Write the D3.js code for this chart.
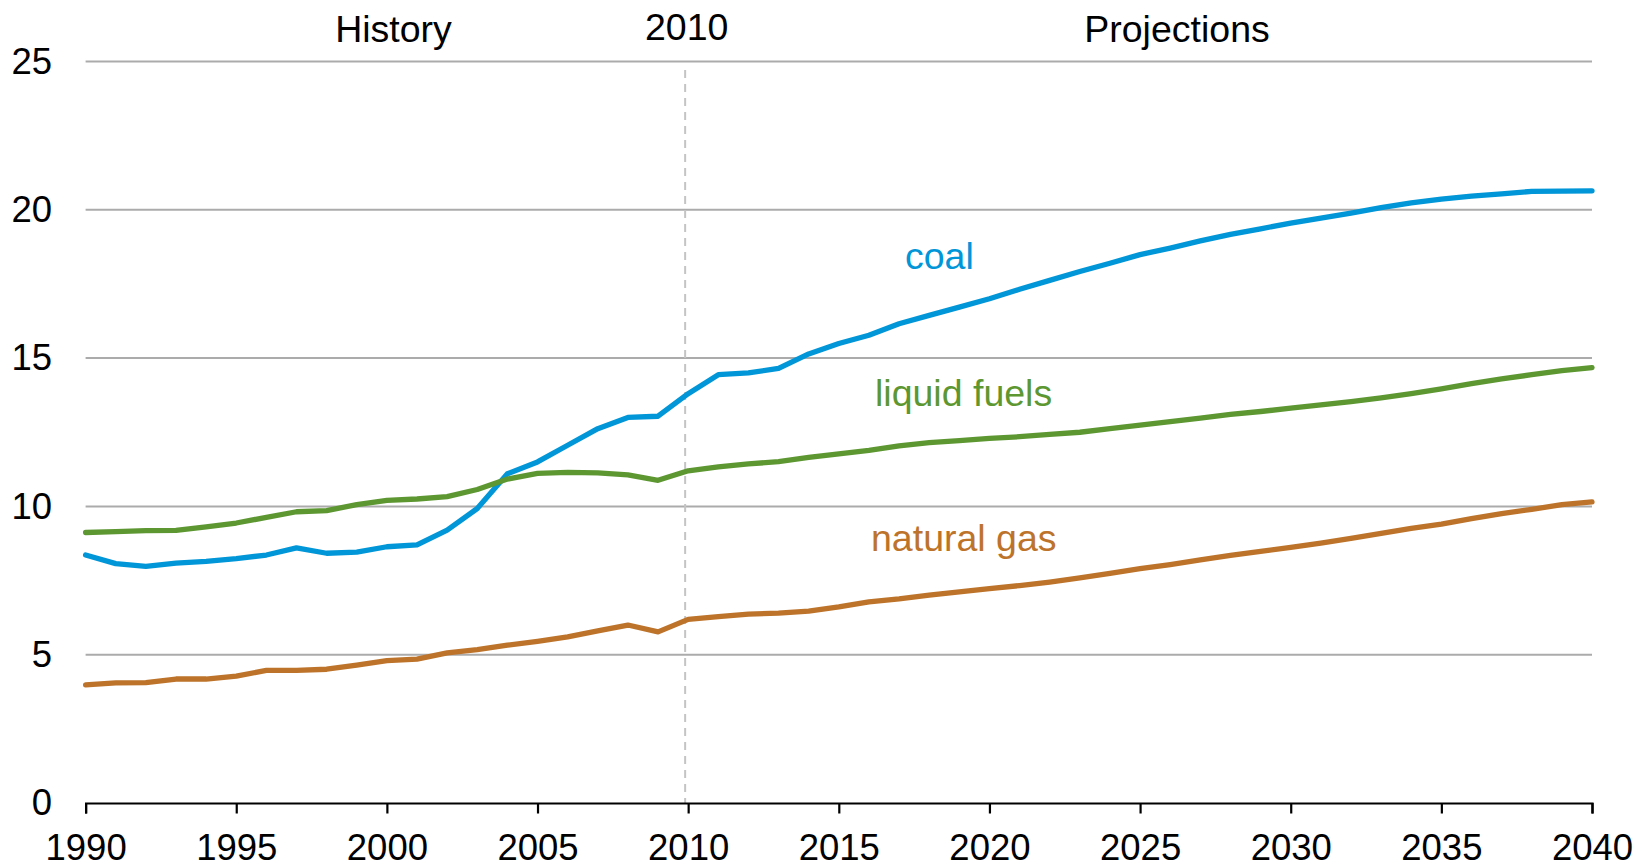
<!DOCTYPE html>
<html>
<head>
<meta charset="utf-8">
<script src="https://cdn.jsdelivr.net/npm/d3@7"></script>
<style>
  body { margin: 0; background: #ffffff; }
  text { font-family: "Liberation Sans", Arial, sans-serif; }
</style>
</head>
<body>
<div id="chart"></div>
<script>

// Years on the x axis
var years = d3.range(1990, 2041);

// Series values, one per year 1990-2040
var coal = [8.36, 8.07, 7.98, 8.09, 8.15, 8.24, 8.36, 8.60, 8.42, 8.46,
  8.64, 8.70, 9.20, 9.93, 11.10, 11.50, 12.06, 12.62, 13.00, 13.04,
  13.80, 14.44, 14.50, 14.65, 15.14, 15.49, 15.77, 16.16, 16.44, 16.72,
  17.00, 17.32, 17.62, 17.92, 18.20, 18.49, 18.71, 18.95, 19.17, 19.36,
  19.55, 19.72, 19.89, 20.07, 20.23, 20.36, 20.46, 20.54, 20.62, 20.63,
  20.64];

var liquidFuels = [9.12, 9.15, 9.18, 9.19, 9.31, 9.44, 9.63, 9.82, 9.86, 10.06,
  10.20, 10.25, 10.33, 10.57, 10.92, 11.11, 11.15, 11.13, 11.06, 10.88,
  11.20, 11.33, 11.43, 11.51, 11.65, 11.77, 11.89, 12.04, 12.15, 12.22,
  12.29, 12.35, 12.43, 12.50, 12.62, 12.74, 12.86, 12.98, 13.10, 13.20,
  13.31, 13.42, 13.53, 13.66, 13.80, 13.96, 14.14, 14.30, 14.44, 14.58,
  14.68];

var naturalGas = [3.98, 4.05, 4.06, 4.18, 4.18, 4.28, 4.47, 4.47, 4.51, 4.65,
  4.80, 4.85, 5.06, 5.17, 5.32, 5.45, 5.60, 5.80, 6.00, 5.77,
  6.19, 6.28, 6.37, 6.40, 6.47, 6.61, 6.78, 6.88, 7.01, 7.12,
  7.23, 7.33, 7.45, 7.59, 7.74, 7.90, 8.04, 8.20, 8.35, 8.48,
  8.62, 8.76, 8.92, 9.09, 9.26, 9.40, 9.59, 9.76, 9.90, 10.06,
  10.15];

// Tick values
var xTicks = [1990, 1995, 2000, 2005, 2010, 2015, 2020, 2025, 2030, 2035, 2040];
var yTicks = [0, 5, 10, 15, 20, 25];

// Series names and colours
var seriesNames = ["coal", "liquid fuels", "natural gas"];
var seriesColors = ["#0096d7", "#5d9732", "#bd732a"];

// Set dimensions for the SVG container
var width = 1636;
var height = 867;
var margin = { top: 61.5, right: 44, bottom: 64, left: 85.6 };
var innerW = width - margin.left - margin.right;
var innerH = height - margin.top - margin.bottom;

var svg = d3.select("#chart")
  .append("svg")
  .attr("width", width)
  .attr("height", height);

var g = svg.append("g")
  .attr("transform", "translate(" + margin.left + "," + margin.top + ")");

// Scales
var x = d3.scaleLinear().domain([1990, 2040]).range([0, innerW]);
var y = d3.scaleLinear().domain([0, 25]).range([innerH, 0]);

// Horizontal gridlines
g.selectAll(".grid")
  .data(yTicks.filter(function (d) { return d > 0; }))
  .enter()
  .append("line")
  .attr("x1", 0)
  .attr("x2", innerW)
  .attr("y1", function (d) { return y(d); })
  .attr("y2", function (d) { return y(d); })
  .attr("stroke", "#ababab")
  .attr("stroke-width", 2);

// Dashed line marking 2010
g.append("line")
  .attr("x1", x(2009.9))
  .attr("x2", x(2009.9))
  .attr("y1", 8.5)
  .attr("y2", innerH)
  .attr("stroke", "#c4c4c4")
  .attr("stroke-width", 2)
  .attr("stroke-dasharray", "8,6");

// Y axis (labels only)
var yAxis = g.append("g")
  .call(d3.axisLeft(y).tickValues(yTicks).tickSize(0).tickPadding(33.6));
yAxis.select(".domain").remove();
yAxis.selectAll("text")
  .style("font-size", "36.5px")
  .style("fill", "#000");

// X axis
var xAxis = g.append("g")
  .attr("transform", "translate(0," + innerH + ")")
  .call(d3.axisBottom(x).tickValues(xTicks).tickFormat(d3.format("d")).tickSize(10.5).tickPadding(21));
xAxis.select(".domain")
  .attr("stroke", "#000")
  .attr("stroke-width", 2.2);
xAxis.selectAll(".tick line")
  .attr("stroke", "#000")
  .attr("stroke-width", 2.2);
xAxis.selectAll("text")
  .style("font-size", "36.5px")
  .style("fill", "#000");

// Lines
var line = d3.line()
  .x(function (d, i) { return x(years[i]); })
  .y(function (d) { return y(d); });

var seriesValues = [coal, liquidFuels, naturalGas];

g.selectAll(".series")
  .data(seriesValues)
  .enter()
  .append("path")
  .attr("d", line)
  .attr("fill", "none")
  .attr("stroke", function (d, i) { return seriesColors[i]; })
  .attr("stroke-width", 5.3)
  .attr("stroke-linejoin", "round")
  .attr("stroke-linecap", "round");

// Series labels
var labelPos = [[905, 269], [875, 406], [871, 550.5]];
svg.selectAll(".label")
  .data(seriesNames)
  .enter()
  .append("text")
  .attr("x", function (d, i) { return labelPos[i][0]; })
  .attr("y", function (d, i) { return labelPos[i][1]; })
  .style("font-size", "37.5px")
  .style("fill", function (d, i) { return seriesColors[i]; })
  .text(function (d) { return d; });

// Header texts
svg.append("text")
  .attr("x", 393.5)
  .attr("y", 41.5)
  .attr("text-anchor", "middle")
  .style("font-size", "37.5px")
  .text("History");

svg.append("text")
  .attr("x", margin.left + x(2010) - 1.5)
  .attr("y", 40)
  .attr("text-anchor", "middle")
  .style("font-size", "37.5px")
  .text("2010");

svg.append("text")
  .attr("x", 1177)
  .attr("y", 42)
  .attr("text-anchor", "middle")
  .style("font-size", "37.5px")
  .text("Projections");

</script>
</body>
</html>
